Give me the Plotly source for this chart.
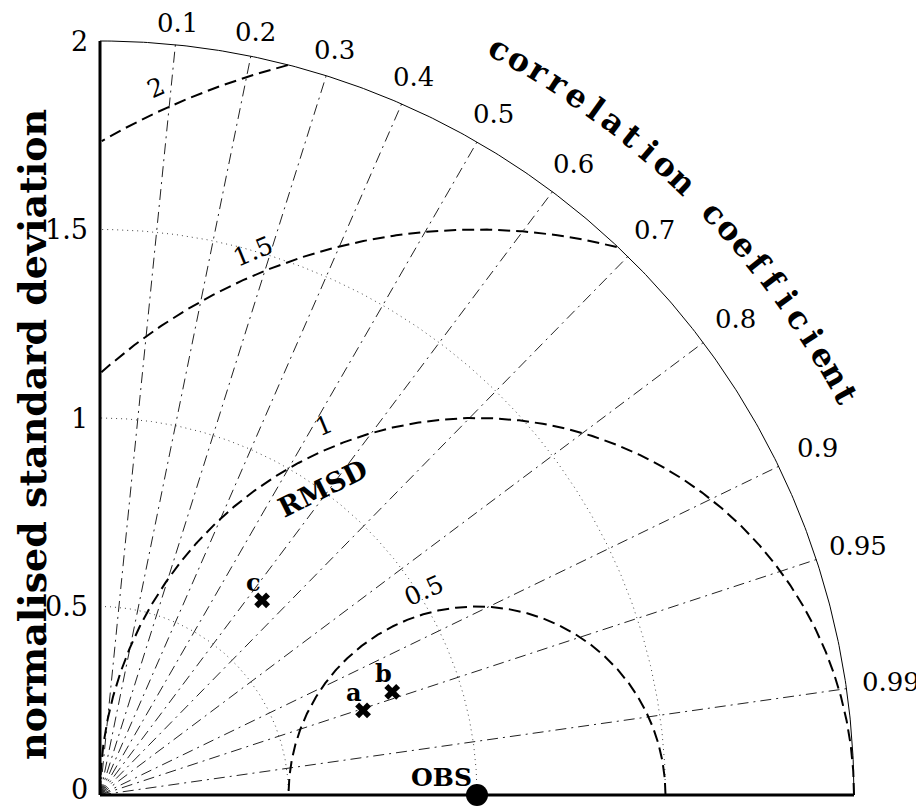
import numpy as np
import plotly.graph_objects as go

# ---------------- data ----------------
model_names = ["a", "b", "c"]
model_std = [0.733, 0.822, 0.672]
model_corr = [0.952, 0.943, 0.640]
obs_name = "OBS"
obs_std = 1.0
corr_ticks = [0.1, 0.2, 0.3, 0.4, 0.5, 0.6, 0.7, 0.8, 0.9, 0.95, 0.99]
corr_tick_labels = ["0.1", "0.2", "0.3", "0.4", "0.5", "0.6", "0.7", "0.8", "0.9", "0.95", "0.99"]
std_ticks = [0, 0.5, 1, 1.5, 2]
std_tick_labels = ["0", "0.5", "1", "1.5", "2"]
std_grid = [0.5, 1.0, 1.5]
rmsd_levels = [0.5, 1.0, 1.5, 2.0]
rmsd_tick_labels = ["0.5", "1", "1.5", "2"]
std_max = 2.0
y_title = "normalised standard deviation"
corr_title = "correlation coefficient"

# ---------------- geometry ----------------
PAGE_OFF = 8                      # default body margin of the page
W, H = 924 - PAGE_OFF, 806 - PAGE_OFF
S = 377.0                         # px per unit
OX, OY = 100 - PAGE_OFF, 795 - PAGE_OFF   # origin in figure px
x_range = [-OX / S, (W - OX) / S]
y_range = [-(H - OY) / S, OY / S]

SERIF = "DejaVu Serif"
fig = go.Figure()

def line(x, y, color, width, dash):
    fig.add_trace(go.Scatter(x=x, y=y, mode="lines", hoverinfo="skip",
                             line=dict(color=color, width=width, dash=dash),
                             showlegend=False))

# correlation rays
for c in corr_ticks:
    th = np.arccos(c)
    line([0, std_max * np.cos(th)], [0, std_max * np.sin(th)], "#222", 1, "11px,5px,2px,5px")

# std dotted arcs
t = np.linspace(0, np.pi / 2, 300)
for r in std_grid:
    line(r * np.cos(t), r * np.sin(t), "#444", 1, "1px,4px")

# outer arc
line(std_max * np.cos(t), std_max * np.sin(t), "black", 1, "solid")

# RMSD contours
p = np.linspace(0, np.pi, 800)
for R in rmsd_levels:
    x = obs_std + R * np.cos(p)
    y = R * np.sin(p)
    m = (x >= 0) & (x ** 2 + y ** 2 <= std_max ** 2 + 1e-9)
    line(x[m], y[m], "black", 2, "12px,6px")

# axes
line([0, 0], [0, std_max], "black", 3, "solid")
line([0, std_max], [0, 0], "black", 3, "solid")

# models
mx = [s * c for s, c in zip(model_std, model_corr)]
my = [s * np.sin(np.arccos(c)) for s, c in zip(model_std, model_corr)]
fig.add_trace(go.Scatter(x=mx, y=my, mode="markers", hoverinfo="skip", showlegend=False,
                         marker=dict(symbol="x", size=14, color="black", line=dict(width=0))))
fig.add_trace(go.Scatter(x=[obs_std], y=[0], mode="markers", hoverinfo="skip", showlegend=False,
                         cliponaxis=False, marker=dict(symbol="circle", size=22, color="black")))

ann = []
for n, x, y in zip(model_names, mx, my):
    ann.append(dict(x=x, y=y, text=n, showarrow=False, xshift=-9, yshift=18,
                    font=dict(family=SERIF, size=24, color="black", weight="bold")))
ann.append(dict(x=obs_std, y=0, text=obs_name, showarrow=False, xshift=-36, yshift=18,
                font=dict(family=SERIF, size=25, color="black", weight="bold")))

# std tick labels
for v, lab in zip(std_ticks, std_tick_labels):
    ann.append(dict(x=0, y=v, text=lab, showarrow=False, xanchor="right", yanchor="middle",
                    xshift=-10, yshift=(6 if v == 0 else 0),
                    font=dict(family=SERIF, size=27, color="black")))

# correlation tick labels
for c, lab in zip(corr_ticks, corr_tick_labels):
    th = np.arccos(c)
    rc = 2.052 + 0.068 * c
    ann.append(dict(x=rc * np.cos(th), y=rc * np.sin(th), text=lab, showarrow=False,
                    xanchor="center", yanchor="middle",
                    font=dict(family=SERIF, size=26, color="black")))

# RMSD labels
rm_phi = [104.5, 112.5, 112.4, 114.4]
for R, lab, ph in zip(rmsd_levels, rmsd_tick_labels, rm_phi):
    a = np.radians(ph)
    rr = R + 0.06
    ann.append(dict(x=obs_std + rr * np.cos(a), y=rr * np.sin(a), text=lab, showarrow=False,
                    textangle=-(ph - 90) if R > 0.5 else -24,
                    font=dict(family=SERIF, size=25, color="black")))
ann.append(dict(x=0.589, y=0.814, text="RMSD", showarrow=False, textangle=-26.5,
                font=dict(family=SERIF, size=27, color="black", weight="bold")))

# y title
ann.append(dict(x=-68 / S, y=(795 - 435) / S, text=y_title, showarrow=False, textangle=-90,
                borderpad=0,
                font=dict(family=SERIF, size=38, color="black", weight="bold")))

# curved correlation title
a0, a1, rt = 61.8, 28.2, 2.245
nch = len(corr_title)
for i, ch in enumerate(corr_title):
    if ch == " ":
        continue
    ang = a0 + (a1 - a0) * i / (nch - 1)
    r = np.radians(ang)
    ann.append(dict(x=rt * np.cos(r), y=rt * np.sin(r), text=ch, showarrow=False,
                    xanchor="center", yanchor="middle", textangle=90 - ang,
                    font=dict(family=SERIF, size=32, color="black", weight="bold")))

fig.update_layout(
    width=W, height=H, margin=dict(l=0, r=0, t=0, b=0),
    paper_bgcolor="white", plot_bgcolor="white",
    xaxis=dict(range=x_range, visible=False, fixedrange=True),
    yaxis=dict(range=y_range, visible=False, fixedrange=True),
    annotations=ann, showlegend=False,
)
fig.write_html("out.html")
